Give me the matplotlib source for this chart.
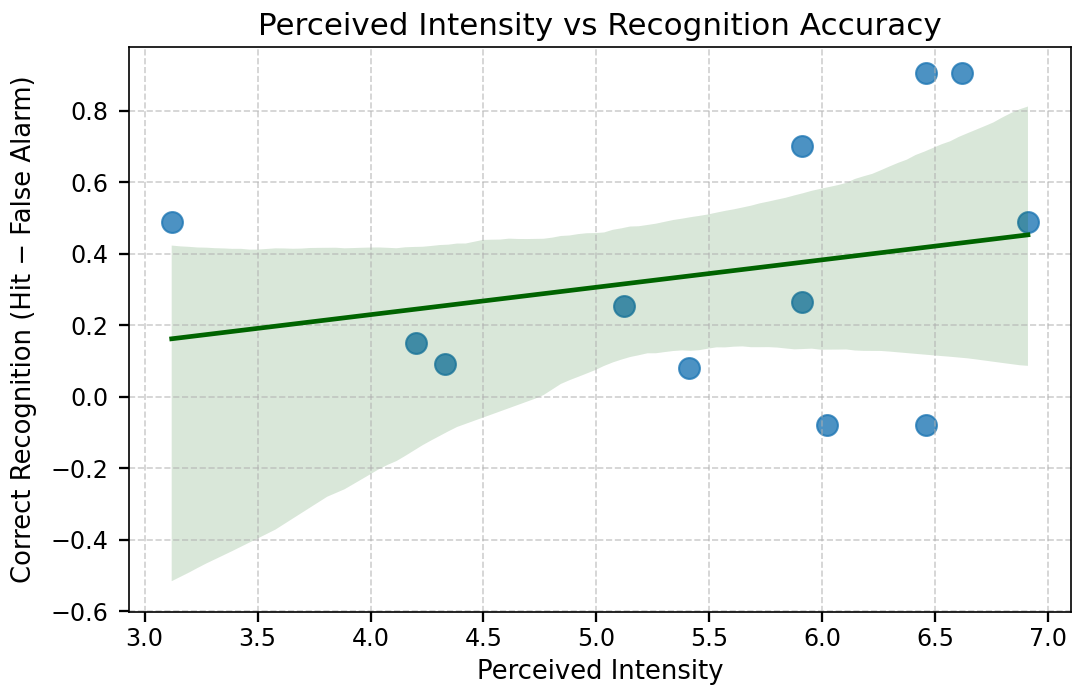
import matplotlib
matplotlib.use("Agg")
import matplotlib.pyplot as plt
import pandas as pd
import seaborn as sns

# Values
intensity = [3.12, 4.20, 4.33, 5.12, 5.41, 5.91, 5.91, 6.02, 6.46, 6.46, 6.62, 6.91]
recognition = [0.49, 0.15, 0.09, 0.255, 0.08, 0.70, 0.265, -0.08, 0.905, -0.08, 0.905, 0.49]

df = pd.DataFrame({"intensity": intensity, "recognition": recognition})

fig, ax = plt.subplots(figsize=(7.16, 4.627), dpi=150)
fig.subplots_adjust(left=0.120, right=0.997, bottom=0.118, top=0.932)

sns.regplot(
    data=df, x="intensity", y="recognition", ax=ax,
    scatter_kws={"s": 100},
    line_kws={"color": "darkgreen"},
    seed=284,  # bootstrap seed for the CI band
)
ax.collections[1].set_facecolor("darkgreen")  # band colour

ax.set_ylim(-0.603, 0.978)
ax.set_title("Perceived Intensity vs Recognition Accuracy", fontsize=14.9)
ax.set_xlabel("Perceived Intensity", fontsize=12.4)
ax.set_ylabel("Correct Recognition (Hit \u2212 False Alarm)", fontsize=12.4, labelpad=6.5)
ax.tick_params(labelsize=11.4, length=4.8, width=1.1)
ax.tick_params(axis="x", pad=2.3)
ax.tick_params(axis="y", pad=5.2)
ax.grid(True, linestyle="--", alpha=0.6)

fig.savefig("out.png", dpi=150)
